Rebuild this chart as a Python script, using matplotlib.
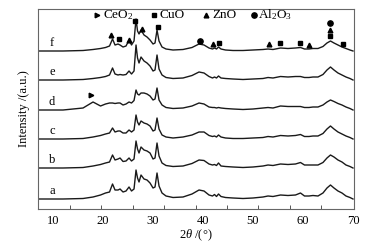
import numpy as np
import matplotlib
matplotlib.use("Agg")
import matplotlib.pyplot as plt

plt.rcParams['font.family'] = ['Liberation Serif', 'DejaVu Serif']
plt.rcParams['mathtext.fontset'] = 'custom'
plt.rcParams['mathtext.rm'] = 'Liberation Serif'
plt.rcParams['mathtext.it'] = 'Liberation Serif:italic'

# 2theta positions
two_theta = [7, 12, 16, 18, 19.5, 20.5, 21.3, 21.9, 22.4, 23.0, 23.4, 24.0, 24.6, 25.2, 25.7, 26.2,
             26.6, 26.9, 27.2, 27.6, 28.2, 28.8, 29.4, 30.0, 30.4, 30.8, 31.2, 31.8, 32.6, 34, 36, 37.8,
             39.2, 40.2, 41.2, 41.9, 42.3, 42.7, 43.1, 43.6, 44.5, 46, 48, 50, 52, 53, 54, 55.5,
             57, 58.5, 59.5, 60.3, 61.2, 62, 63, 64, 64.8, 65.5, 66.2, 67, 67.8, 68.6, 69.4, 70]

# intensity above each curve's own baseline (a.u.)
int_a = [0, 0, 0.5, 2, 4, 6, 7, 15, 9, 9, 10, 7, 8, 12, 8, 10,
         29, 21, 17, 24, 20, 19, 16, 11, 12, 26, 13, 6, 3, 1.5, 2, 5,
         9, 8, 4, 3, 4.5, 2.5, 5, 2.5, 1.5, 1, 0.5, 1, 2, 3, 2.5, 4,
         3.5, 4, 6, 3, 3, 3.5, 3, 6, 11, 14, 11, 8, 6, 3, 1.5, 0]
int_b = [0, 0, 0.5, 2, 3.5, 5, 6, 13, 8, 9, 10, 6.5, 7, 10, 7, 9,
         27, 19, 15, 21, 18, 17, 15, 9, 10, 25, 12, 5, 2.5, 1.5, 2, 4.5,
         8, 7.5, 4, 3, 3.5, 2.5, 5, 2, 1.5, 1, 0.5, 1, 2, 3, 2.5, 4,
         3.5, 4, 5.5, 3, 3, 3, 3, 5.5, 10, 13, 11, 8, 6, 3, 1.5, 0]
int_c = [0, 0, 0.5, 2, 3.5, 5, 6, 11, 7, 8, 8, 6, 6, 9, 7, 9,
         24, 17, 14, 18, 16, 15, 13, 8, 9, 21, 10, 4, 2, 1, 2, 4,
         7, 7, 3.5, 2.5, 3, 2, 4, 2, 1, 0.5, 0.5, 1, 1.5, 2.5, 2, 3.5,
         3, 3.5, 4.5, 2.5, 2.5, 3, 3, 5.5, 10, 13, 10, 7, 5, 3, 1.5, 0]
int_d = [0, 0, 2, 8, 4, 6, 7, 7, 6.5, 7, 7, 5, 6, 8, 7, 9.5,
         20, 16, 15, 17, 17, 16, 14, 10, 11, 22, 10, 5, 2.5, 1.5, 2, 4,
         7, 6, 3, 2.5, 2.5, 2, 2.5, 2, 1.5, 1, 0.5, 1, 2, 2.5, 2, 4,
         3.5, 3.5, 3.5, 2.5, 2.5, 3, 3, 5, 8, 10, 8.5, 6.5, 5, 3, 1.5, 0]
int_e = [0, 0, 0.5, 1.5, 2.5, 3.5, 5, 12, 6, 5, 5.5, 5, 5.5, 9, 6, 9,
         35, 22, 17, 23, 19, 17, 14, 9, 10, 25, 11, 5, 2.5, 1.5, 2, 4.5,
         8, 7, 3.5, 2, 3, 2, 4, 2, 1.5, 1, 0.5, 1, 1.5, 2.5, 2, 3.5,
         3, 3.5, 3.5, 2.5, 2.5, 3, 3, 5.5, 10, 13, 10, 7, 5, 3, 1.5, 0]
int_f = [0, 0, 0.5, 1.5, 2.5, 3.5, 5, 12, 6, 7, 6, 4, 5, 11, 6, 10,
         32, 20, 17, 21, 16, 14, 11, 7, 8, 21, 10, 4, 2, 1, 1.5, 3.5,
         7, 6, 3, 2, 3, 2, 4, 2, 1, 0.5, 0.5, 1, 1.5, 2, 1.5, 3,
         2.5, 3, 3.5, 2, 2, 2.5, 2.5, 4.5, 8, 10, 8, 6, 4, 2.5, 1, 0]
sample_names = ['a', 'b', 'c', 'd', 'e', 'f']

# phase markers (2theta, height in plot units)
ceo2_x, ceo2_y = [17.5], [114]
cuo_x = [23.1, 26.4, 30.9, 43.2, 55.4, 59.5, 65.5, 68.0]
cuo_y = [170, 188, 182, 166, 166, 166, 173, 165]
zno_x = [21.6, 25.1, 27.7, 41.9, 53.2, 61.3, 65.5]
zno_y = [174, 169, 180, 165, 165, 164, 179]
al2o3_x = [39.4, 65.5]
al2o3_y = [168, 186]

offsets = [10, 41, 70, 99, 129, 158]

fig = plt.figure(figsize=(3.73, 2.5), dpi=100)
ax = fig.add_axes([0.102, 0.164, 0.847, 0.8])

curves = [int_a, int_b, int_c, int_d, int_e, int_f]
for name, ys, off in zip(sample_names, curves, offsets):
    ax.plot(two_theta, np.array(ys) + off, color='#1a1a1a', lw=1.0)
    ax.text(9.8, off + 8, name, fontsize=9, ha='center', va='center')

mk = dict(color='black', ls='none', clip_on=False)
ax.plot(ceo2_x, ceo2_y, marker='>', ms=3.3, **mk)
ax.plot(cuo_x, cuo_y, marker='s', ms=2.5, **mk)
ax.plot(zno_x, zno_y, marker='^', ms=3.4, **mk)
ax.plot(al2o3_x, al2o3_y, marker='o', ms=3.8, **mk)

# legend row at top
leg_y = 194
ax.plot([18.8], [leg_y], marker='>', ms=3.3, **mk)
ax.text(20.0, leg_y, 'CeO$_2$', fontsize=9.5, va='center')
ax.plot([30.2], [leg_y], marker='s', ms=2.5, **mk)
ax.text(31.2, leg_y, 'CuO', fontsize=9.5, va='center')
ax.plot([40.6], [leg_y], marker='^', ms=3.4, **mk)
ax.text(41.8, leg_y, 'ZnO', fontsize=9.5, va='center')
ax.plot([50.2], [leg_y], marker='o', ms=3.8, **mk)
ax.text(51.0, leg_y, 'Al$_2$O$_3$', fontsize=9.5, va='center')

ax.set_xlim(7, 70.2)
ax.set_ylim(0, 200)
ax.set_xticks(range(10, 71, 10))
ax.set_xticks(np.linspace(7, 70, 11)[1:-1], minor=True)
ax.tick_params(axis='x', which='major', length=0, labelsize=9, pad=4)
ax.tick_params(axis='x', which='minor', direction='in', length=3, width=0.7, color='#555')
ax.set_yticks([])
for s in ax.spines.values():
    s.set_color('#666')
    s.set_linewidth(0.8)

ax.set_xlabel(r'$2\theta$ /(°)', fontsize=9, labelpad=1)
ax.set_ylabel('Intensity /(a.u.)', fontsize=9, labelpad=6)

fig.savefig('out.png', dpi=100)
